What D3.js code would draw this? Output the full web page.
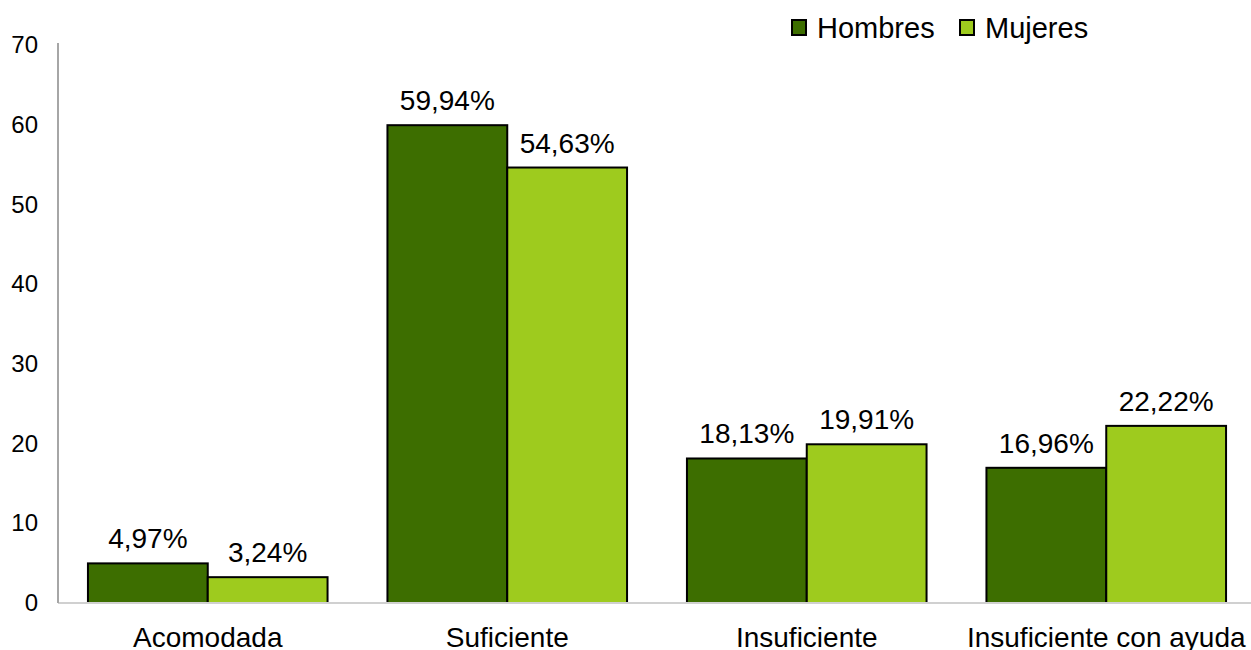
<!DOCTYPE html>
<html>
<head>
<meta charset="utf-8">
<script src="https://cdn.jsdelivr.net/npm/d3@7"></script>
<style>
  html, body { margin: 0; padding: 0; background: #fff; }
  svg { display: block; font-family: "Liberation Sans", Arial, sans-serif; }
</style>
</head>
<body>
<svg id="chart" width="1251" height="650"></svg>
<script>
// Situación económica por sexo (%)
const categories = ["Acomodada", "Suficiente", "Insuficiente", "Insuficiente con ayuda"];
const series = ["Hombres", "Mujeres"];
const hombres = [4.97, 59.94, 18.13, 16.96];
const mujeres = [3.24, 54.63, 19.91, 22.22];
const yTicks = [0, 10, 20, 30, 40, 50, 60, 70];
const colors = ["#3d6e00", "#9ecb1e"];

const svg = d3.select("#chart");
const W = 1251, H = 650;
const margin = { left: 58, top: 45, bottom: 47 };

const x0 = d3.scaleBand().domain(categories)
  .range([margin.left, 1256]).paddingInner(0.2).paddingOuter(0.1);
const x1 = d3.scaleBand().domain(series).range([0, x0.bandwidth()]);
const y = d3.scaleLinear().domain([0, 70]).range([H - margin.bottom, margin.top]);
const color = d3.scaleOrdinal().domain(series).range(colors);

const fmt = v => d3.format(".2f")(v).replace(".", ",") + "%";

// Bars
const rows = categories.map((c, i) => ({ cat: c, vals: [hombres[i], mujeres[i]] }));
const groups = svg.selectAll("g.cat").data(rows).join("g")
  .attr("class", "cat")
  .attr("transform", d => `translate(${x0(d.cat)},0)`);

groups.selectAll("rect").data(d => d.vals.map((v, j) => ({ s: series[j], v })))
  .join("rect")
  .attr("x", d => x1(d.s))
  .attr("width", x1.bandwidth())
  .attr("y", d => y(d.v))
  .attr("height", d => y(0) - y(d.v))
  .attr("fill", d => color(d.s))
  .attr("stroke", "#000")
  .attr("stroke-width", 2);

groups.selectAll("text").data(d => d.vals.map((v, j) => ({ s: series[j], v })))
  .join("text")
  .attr("x", d => x1(d.s) + x1.bandwidth() / 2)
  .attr("y", d => y(d.v) - 15)
  .attr("text-anchor", "middle")
  .attr("font-size", 28)
  .attr("fill", "#000")
  .text(d => fmt(d.v));

// Baseline
svg.append("line")
  .attr("x1", margin.left).attr("x2", W)
  .attr("y1", y(0)).attr("y2", y(0))
  .attr("stroke", "#d0d0d0").attr("stroke-width", 2);

// Y axis
const yAxis = svg.append("g")
  .attr("transform", `translate(${margin.left},0)`)
  .call(d3.axisLeft(y).tickValues(yTicks).tickSize(0).tickPadding(20));
yAxis.select(".domain").attr("stroke", "#a6a6a6").attr("stroke-width", 2)
  .attr("d", `M0,${y(70) - 2}V${y(0)}`);
yAxis.selectAll("text").attr("font-size", 24).attr("fill", "#000")
  .attr("font-family", "Liberation Sans, Arial, sans-serif");

// X axis labels
svg.append("g")
  .attr("transform", `translate(0,${y(0)})`)
  .call(d3.axisBottom(x0).tickSize(0).tickPadding(0))
  .call(g => g.select(".domain").remove())
  .selectAll("text")
  .attr("dy", null)
  .attr("y", 44)
  .attr("font-size", 28).attr("fill", "#000")
  .attr("font-family", "Liberation Sans, Arial, sans-serif");

// Legend
const legend = svg.append("g").attr("transform", "translate(792,20)");
const legendX = [0, 168];
series.forEach((s, i) => {
  const g = legend.append("g").attr("transform", `translate(${legendX[i]},0)`);
  g.append("rect").attr("x", 0).attr("y", 0).attr("width", 14).attr("height", 15)
    .attr("fill", color(s)).attr("stroke", "#000").attr("stroke-width", 2);
  g.append("text").attr("x", 25).attr("y", 18).attr("font-size", 29)
    .attr("fill", "#000").text(s);
});
</script>
</body>
</html>
